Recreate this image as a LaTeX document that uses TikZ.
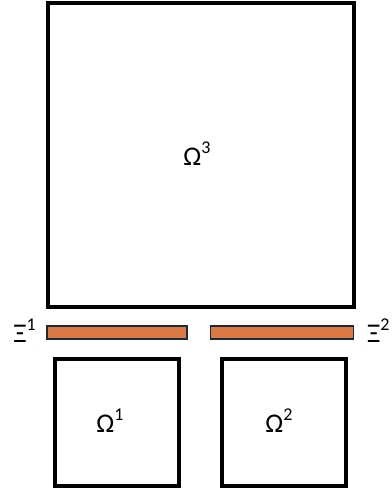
\documentclass[tikz,border=0pt]{standalone}
\usepackage{fontspec}
\setmainfont{Carlito}
\usetikzlibrary{positioning}
\definecolor{barorange}{HTML}{DC7843}
\definecolor{barline}{HTML}{1B2A38}
\newcommand{\upidx}[1]{\raisebox{0.45em}{\fontsize{18}{20}\selectfont #1}}

\begin{document}
\begin{tikzpicture}[
    x=1pt, y=-1pt,
    every node/.style={font=\fontsize{27}{32}\selectfont},
    subdomain/.style={draw, line width=4pt, inner sep=0pt},
    iface/.style={draw=barline, fill=barorange, line width=1.6pt, inner sep=0pt, minimum height=13pt}
]
\useasboundingbox (0,0) rectangle (391,489);

% Top subdomain
\node[subdomain, minimum width=306pt, minimum height=304pt] (om3) at (201,155) {};
\node (om3lab) at (197,154) {Ω\upidx{3}};

% Interfaces
\node[iface, minimum width=140pt] (xi1) at (117,332.5) {};
\node[iface, minimum width=143pt] (xi2) at (282,332.5) {};
\node[anchor=east, inner sep=0pt] (xi1lab) at (36,331) {Ξ\upidx{1}};
\node[anchor=west, inner sep=0pt] (xi2lab) at (367,331) {Ξ\upidx{2}};

% Bottom subdomains
\node[subdomain, minimum width=124pt, minimum height=127pt] (om1) at (117,422) {};
\node[subdomain, minimum width=124pt, minimum height=127pt] (om2) at (284,422) {};
\node (om1lab) at (110,421) {Ω\upidx{1}};
\node (om2lab) at (279,421) {Ω\upidx{2}};
\end{tikzpicture}
\end{document}
